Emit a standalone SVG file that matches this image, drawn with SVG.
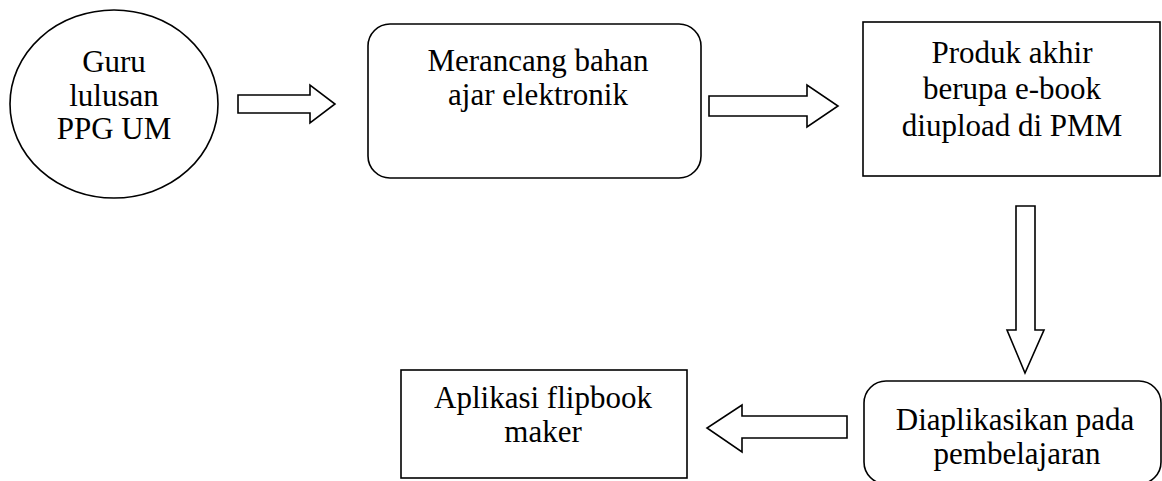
<svg xmlns="http://www.w3.org/2000/svg" width="1162" height="481" viewBox="0 0 1162 481">
<style>
.s{fill:#fff;stroke:#000;stroke-width:1.6}
.t{font-family:"Liberation Serif","Times New Roman",serif;font-size:31px;fill:#000;text-anchor:middle}
</style>
<rect width="1162" height="481" fill="#fff"/>
<g id="n1">
<ellipse class="s" cx="114" cy="104" rx="104" ry="94"/>
<text class="t" x="114" y="72">Guru</text>
<text class="t" x="114" y="106">lulusan</text>
<text class="t" x="114" y="139">PPG UM</text>
</g>
<g id="n2">
<rect class="s" x="368" y="24" width="333" height="154" rx="22"/>
<text class="t" x="538" y="71">Merancang bahan</text>
<text class="t" x="538" y="105">ajar elektronik</text>
</g>
<g id="n3">
<rect class="s" x="863" y="22" width="297" height="154"/>
<text class="t" x="1012" y="63">Produk akhir</text>
<text class="t" x="1012" y="99">berupa e-book</text>
<text class="t" x="1012" y="136">diupload di PMM</text>
</g>
<g id="n4">
<rect class="s" x="864" y="381" width="297" height="103" rx="22"/>
<text class="t" x="1015" y="430">Diaplikasikan pada</text>
<text class="t" x="1017" y="464">pembelajaran</text>
</g>
<g id="n5">
<rect class="s" x="401" y="370" width="286" height="108"/>
<text class="t" x="543" y="408">Aplikasi flipbook</text>
<text class="t" x="543" y="442">maker</text>
</g>
<g id="connectors">
<polygon class="s" points="238,95 310,95 310,85 335,104 310,123 310,113 238,113"/>
<polygon class="s" points="709,96 807,96 807,85 838,106 807,127 807,116 709,116"/>
<polygon class="s" points="1016,206 1035,206 1035,330 1044,330 1025,373 1007,330 1016,330"/>
<polygon class="s" points="847,416 742,416 742,405 707,428 742,452 742,438 847,438"/>
</g>
</svg>
